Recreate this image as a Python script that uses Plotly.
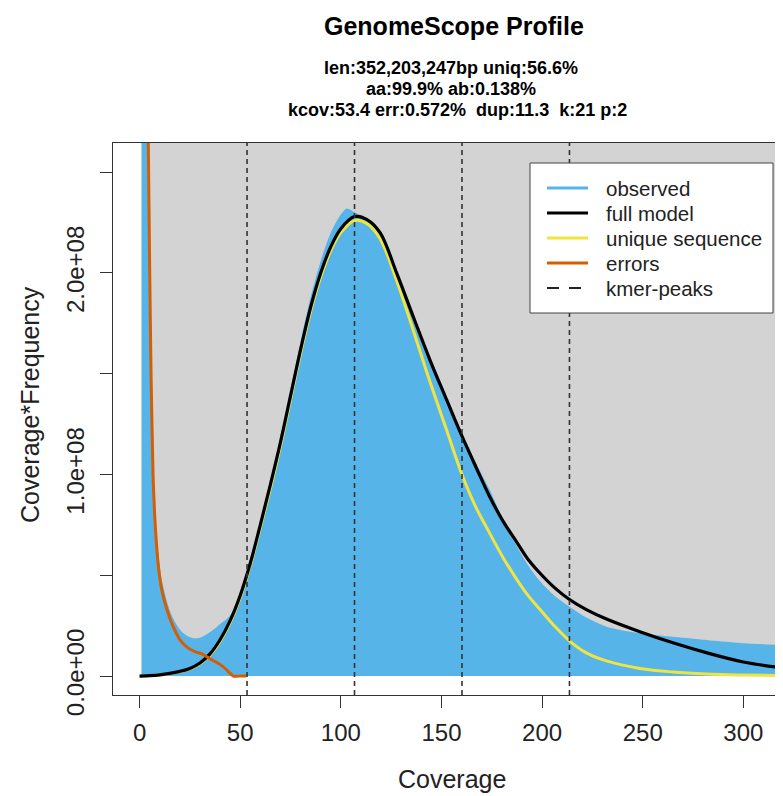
import plotly.graph_objects as go

# ---------------- data (Coverage*Frequency in units of 1e8) ----------------
Y_UNIT = 1e8

obs_x = [1, 2, 3, 4, 5, 6, 7, 8, 9.4, 11, 13.6, 16, 18.4, 21, 24, 27.5, 30, 33, 36.4, 40,
         45, 50, 55, 60, 65, 70, 75, 80, 85, 90, 95, 100, 103, 107, 113, 119.5, 127.8,
         136, 144.3, 152.6, 160.2, 167, 174, 180.5, 187.4, 193, 199, 206, 213.6, 222, 232,
         248.6, 270, 300, 320]
obs_y = [6.0, 4.5, 3.4, 2.7, 2.05, 1.35, 0.97, 0.76, 0.6, 0.48, 0.37, 0.3, 0.255, 0.22,
         0.198, 0.187, 0.19, 0.205, 0.228, 0.258, 0.3, 0.41, 0.57, 0.76, 0.96, 1.18, 1.42,
         1.66, 1.88, 2.06, 2.2, 2.29, 2.32, 2.3, 2.27, 2.2, 2.0, 1.785, 1.57, 1.375, 1.2,
         1.06, 0.923, 0.78, 0.645, 0.55, 0.47, 0.4, 0.344, 0.29, 0.245, 0.212, 0.19, 0.163,
         0.153]

model_x = [0, 5, 10, 15, 20, 25, 30, 35, 40, 45, 50, 55, 60, 65, 70, 75, 80, 85, 90, 95,
           100, 106.8, 113, 119.5, 127.8, 136, 144.3, 152.6, 160.2, 167, 174, 180.5, 187.4,
           193, 199, 206, 213.6, 222, 232, 248.6, 265, 282, 300, 320]
full_y = [0, 0.002, 0.006, 0.013, 0.023, 0.038, 0.065, 0.11, 0.18, 0.275, 0.4, 0.56, 0.75,
          0.95, 1.16, 1.39, 1.62, 1.83, 2.0, 2.13, 2.22, 2.28, 2.265, 2.2, 1.998, 1.783,
          1.568, 1.37, 1.19, 1.04, 0.89, 0.77, 0.665, 0.58, 0.51, 0.44, 0.38, 0.33, 0.283,
          0.22, 0.165, 0.115, 0.07, 0.04]
uniq_y = [0, 0.002, 0.005, 0.012, 0.021, 0.035, 0.061, 0.104, 0.172, 0.265, 0.388, 0.548,
          0.735, 0.93, 1.14, 1.37, 1.6, 1.81, 1.98, 2.11, 2.2, 2.26, 2.245, 2.17, 1.96, 1.715,
          1.46, 1.22, 1.0, 0.84, 0.708, 0.59, 0.48, 0.4, 0.33, 0.25, 0.175, 0.115, 0.075,
          0.038, 0.02, 0.01, 0.005, 0.002]

err_x = [1, 2, 3, 4, 5, 5.7, 6.7, 7.5, 9.4, 11, 13.6, 16.5, 20.1, 24, 28.4, 31, 33.4, 37,
         40, 43, 46.6, 50, 53]
err_y = [40, 12, 5, 3.0, 2.05, 1.5, 1.0, 0.8, 0.54, 0.43, 0.33, 0.25, 0.18, 0.14, 0.118,
         0.11, 0.096, 0.075, 0.058, 0.033, 0.0, 0.0, 0.0]

kmer_peaks = [53.4, 106.8, 160.2, 213.6]

x_ticks = [0, 50, 100, 150, 200, 250, 300]
y_ticks = [0, 0.5, 1.0, 1.5, 2.0, 2.5]
y_tick_text = ["0.0e+00", "", "1.0e+08", "", "2.0e+08", ""]

title_text = "GenomeScope Profile"
subtitle_lines = ["len:352,203,247bp uniq:56.6%",
                  "aa:99.9% ab:0.138%",
                  "kcov:53.4 err:0.572%  dup:11.3  k:21 p:2"]
legend_names = ["observed", "full model", "unique sequence", "errors", "kmer-peaks"]

# ---------------- styling ----------------
C_OBS = "#56B4E9"
C_FULL = "#000000"
C_UNIQ = "#F0E442"
C_ERR = "#D55E00"
C_PEAK = "#333333"
C_BG = "#D3D3D3"
C_AXIS = "#333333"
FONT = "Liberation Sans, Arial, Helvetica, sans-serif"

X_RANGE = [-13.2, 319.7]
Y_RANGE = [-0.094, 2.645]

OFF = 8                      # default page margin around the plot div
W, H = 775, 788
ML, MR, MT, MB = 105, 0, 135, 101
PW, PH = W - ML - MR, H - MT - MB


def page_to_paper(px, py):
    fx, fy = px - OFF, py - OFF
    return (fx - ML) / PW, (H - MB - fy) / PH


fig = go.Figure()

# observed (filled area)
fig.add_trace(go.Scatter(x=obs_x, y=[v * Y_UNIT for v in obs_y], mode="lines",
                         line=dict(color=C_OBS, width=0, shape="spline", smoothing=0.8),
                         fill="tozeroy", fillcolor=C_OBS, showlegend=False, hoverinfo="skip"))
# unique sequence
fig.add_trace(go.Scatter(x=model_x, y=[v * Y_UNIT for v in uniq_y], mode="lines",
                         line=dict(color=C_UNIQ, width=3, shape="spline", smoothing=1.0),
                         showlegend=False))
# full model
fig.add_trace(go.Scatter(x=model_x, y=[v * Y_UNIT for v in full_y], mode="lines",
                         line=dict(color=C_FULL, width=3.2, shape="spline", smoothing=1.0),
                         showlegend=False))
# errors
fig.add_trace(go.Scatter(x=err_x, y=[v * Y_UNIT for v in err_y], mode="lines",
                         line=dict(color=C_ERR, width=3, shape="spline", smoothing=0.5),
                         showlegend=False))

# grey panel behind the data
fig.add_shape(type="rect", xref="x", yref="y", x0=obs_x[0], x1=X_RANGE[1],
              y0=0, y1=Y_RANGE[1] * Y_UNIT, fillcolor=C_BG, line=dict(width=0),
              layer="below")

# kmer peaks
for p in kmer_peaks:
    fig.add_shape(type="line", xref="x", yref="paper", x0=p, x1=p, y0=0, y1=1,
                  line=dict(color=C_PEAK, width=1.6, dash="5px,4px"), layer="above")

# legend (box, samples, labels)
bx0, by0 = page_to_paper(530, 163)
bx1, by1 = page_to_paper(773, 313)
fig.add_shape(type="rect", xref="paper", yref="paper", x0=bx0, x1=bx1, y0=by1, y1=by0,
              fillcolor="white", line=dict(color="#444", width=1), layer="above")
leg_styles = [dict(color=C_OBS, width=3), dict(color=C_FULL, width=3),
              dict(color=C_UNIQ, width=3), dict(color=C_ERR, width=3),
              dict(color="#222", width=2, dash="12px,10px")]
annos = []
for i, (name, st) in enumerate(zip(legend_names, leg_styles)):
    rowy = 188 + 25 * i
    sx0, sy = page_to_paper(547, rowy)
    sx1, _ = page_to_paper(588, rowy)
    fig.add_shape(type="line", xref="paper", yref="paper", x0=sx0, x1=sx1, y0=sy, y1=sy,
                  line=st, layer="above")
    tx, ty = page_to_paper(604, rowy)
    annos.append(dict(text=name, x=tx, y=ty, xref="paper", yref="paper", showarrow=False,
                      xanchor="left", yanchor="middle",
                      font=dict(family=FONT, size=20.5, color="#222")))

# titles
tx, ty = page_to_paper(454, 26)
annos.append(dict(text=title_text, x=tx, y=ty, xref="paper", yref="paper",
                  showarrow=False, xanchor="center", yanchor="middle",
                  font=dict(family=FONT, size=25, color="#000", weight="bold")))
for line, (cx, cy) in zip(subtitle_lines, [(451, 68), (451, 89), (457, 110)]):
    ax, ay = page_to_paper(cx, cy)
    annos.append(dict(text=line.replace("  ", "\u00a0 "), x=ax, y=ay, xref="paper",
                      yref="paper", showarrow=False, xanchor="center", yanchor="middle",
                      font=dict(family=FONT, size=18, color="#000", weight="bold")))
ax, ay = page_to_paper(452, 779)
annos.append(dict(text="Coverage", x=ax, y=ay, xref="paper", yref="paper",
                  showarrow=False, xanchor="center", yanchor="middle",
                  font=dict(family=FONT, size=25, color="#222")))
ax, ay = page_to_paper(30, 405)
annos.append(dict(text="Coverage*Frequency", x=ax, y=ay, xref="paper", yref="paper",
                  showarrow=False, xanchor="center", yanchor="middle", textangle=-90,
                  font=dict(family=FONT, size=25, color="#222")))

fig.update_layout(
    width=W, height=H,
    margin=dict(l=ML, r=MR, t=MT, b=MB, pad=0),
    paper_bgcolor="white", plot_bgcolor="white",
    showlegend=False,
    annotations=annos,
    xaxis=dict(range=X_RANGE, tickvals=x_ticks, ticktext=[str(t) for t in x_ticks],
               ticks="outside", ticklen=12, tickwidth=1, tickcolor=C_AXIS,
               showline=True, linecolor=C_AXIS, linewidth=1, mirror=True,
               showgrid=False, zeroline=False, ticklabelstandoff=4,
               tickfont=dict(family=FONT, size=24, color="#222")),
    yaxis=dict(range=[Y_RANGE[0] * Y_UNIT, Y_RANGE[1] * Y_UNIT],
               tickvals=[v * Y_UNIT for v in y_ticks], ticktext=y_tick_text,
               ticks="outside", ticklen=12, tickwidth=1, tickcolor=C_AXIS,
               showline=True, linecolor=C_AXIS, linewidth=1, mirror=False,
               showgrid=False, zeroline=False, tickangle=-90, ticklabelstandoff=6,
               tickfont=dict(family=FONT, size=24, color="#222")),
)

fig.write_html("out.html")
